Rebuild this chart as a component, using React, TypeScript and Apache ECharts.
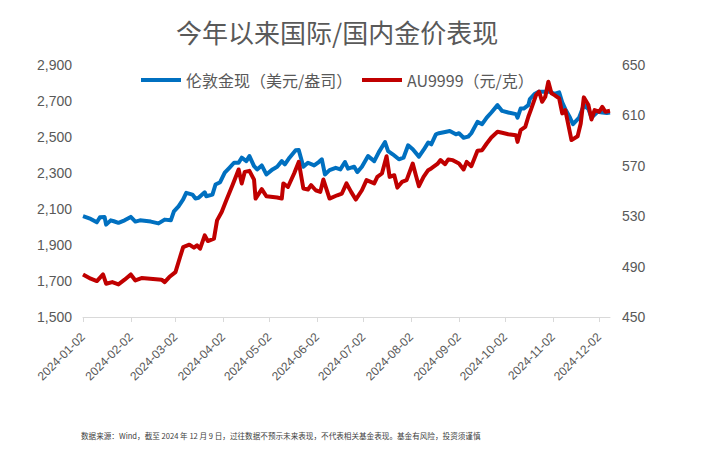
import React, { useEffect, useRef } from "react";
import * as echarts from "echarts";

const titleText = "今年以来国际/国内金价表现";
const noteText =
  "数据来源：Wind，截至 2024 年 12 月 9 日，过往数据不预示未来表现，不代表相关基金表现。基金有风险，投资须谨慎";
const seriesNames = ["伦敦金现（美元/盎司）", "AU9999（元/克）"];
const startDate = "2024-01-02";
const endDate = "2024-12-09";
const leftTicks = [1500, 1700, 1900, 2100, 2300, 2500, 2700, 2900];
const rightTicks = [450, 490, 530, 570, 610, 650];

const londonDates = [
  "2024-01-02", "2024-01-07", "2024-01-11", "2024-01-13", "2024-01-16", "2024-01-17", "2024-01-20", "2024-01-22",
  "2024-01-25", "2024-01-29", "2024-02-02", "2024-02-05", "2024-02-08", "2024-02-15", "2024-02-20", "2024-02-24",
  "2024-02-28", "2024-03-01", "2024-03-04", "2024-03-07", "2024-03-09", "2024-03-13", "2024-03-15", "2024-03-17",
  "2024-03-21", "2024-03-22", "2024-03-26", "2024-03-28", "2024-03-31", "2024-04-03", "2024-04-06", "2024-04-09",
  "2024-04-12", "2024-04-14", "2024-04-17", "2024-04-19", "2024-04-22", "2024-04-24", "2024-04-27", "2024-04-30",
  "2024-05-04", "2024-05-07", "2024-05-10", "2024-05-12", "2024-05-15", "2024-05-19", "2024-05-21", "2024-05-24",
  "2024-05-27", "2024-05-31", "2024-06-03", "2024-06-05", "2024-06-07", "2024-06-10", "2024-06-14", "2024-06-17",
  "2024-06-20", "2024-06-22", "2024-06-26", "2024-06-28", "2024-07-01", "2024-07-05", "2024-07-09", "2024-07-12",
  "2024-07-16", "2024-07-18", "2024-07-21", "2024-07-25", "2024-07-28", "2024-07-31", "2024-08-03", "2024-08-07",
  "2024-08-10", "2024-08-13", "2024-08-15", "2024-08-18", "2024-08-20", "2024-08-24", "2024-08-27", "2024-08-31",
  "2024-09-02", "2024-09-05", "2024-09-08", "2024-09-10", "2024-09-14", "2024-09-17", "2024-09-20", "2024-09-23",
  "2024-09-27", "2024-09-30", "2024-10-04", "2024-10-09", "2024-10-10", "2024-10-12", "2024-10-14", "2024-10-17",
  "2024-10-18", "2024-10-21", "2024-10-24", "2024-10-28", "2024-10-31", "2024-11-03", "2024-11-06", "2024-11-08",
  "2024-11-10", "2024-11-13", "2024-11-15", "2024-11-19", "2024-11-22", "2024-11-25", "2024-11-27", "2024-12-01",
  "2024-12-04", "2024-12-07", "2024-12-09",
];
const londonValues = [
  2060, 2045, 2026, 2054, 2056, 2013, 2037, 2032,
  2023, 2037, 2056, 2030, 2037, 2030, 2020, 2041,
  2037, 2087, 2115, 2153, 2190, 2180, 2158, 2162,
  2193, 2171, 2180, 2236, 2249, 2302, 2329, 2357,
  2357, 2385, 2366, 2394, 2338, 2320, 2342, 2292,
  2320, 2335, 2366, 2348, 2385, 2426, 2428, 2335,
  2357, 2342, 2361, 2376, 2292, 2316, 2329, 2320,
  2361, 2324, 2335, 2305, 2335, 2394, 2366, 2416,
  2472, 2422, 2404, 2376, 2385, 2454, 2432, 2391,
  2428, 2469, 2459, 2515, 2521, 2528, 2533, 2515,
  2521, 2496, 2502, 2521, 2584, 2571, 2608, 2636,
  2677, 2645, 2636, 2627, 2608, 2658, 2658, 2677,
  2711, 2739, 2752, 2752, 2752, 2739, 2748, 2692,
  2655, 2608, 2571, 2608, 2677, 2655, 2608, 2640,
  2636, 2633, 2636,
];

const auDates = [
  "2024-01-02", "2024-01-07", "2024-01-11", "2024-01-15", "2024-01-17", "2024-01-21", "2024-01-25", "2024-01-29",
  "2024-02-02", "2024-02-05", "2024-02-09", "2024-02-22", "2024-02-24", "2024-02-27", "2024-03-02", "2024-03-05",
  "2024-03-07", "2024-03-11", "2024-03-14", "2024-03-16", "2024-03-18", "2024-03-21", "2024-03-23", "2024-03-27",
  "2024-03-29", "2024-04-01", "2024-04-04", "2024-04-08", "2024-04-11", "2024-04-12", "2024-04-14", "2024-04-16",
  "2024-04-19", "2024-04-22", "2024-04-23", "2024-04-27", "2024-04-30", "2024-05-07", "2024-05-10", "2024-05-11",
  "2024-05-14", "2024-05-18", "2024-05-21", "2024-05-24", "2024-05-27", "2024-05-29", "2024-06-01", "2024-06-04",
  "2024-06-06", "2024-06-10", "2024-06-15", "2024-06-18", "2024-06-21", "2024-06-24", "2024-06-27", "2024-07-01",
  "2024-07-04", "2024-07-09", "2024-07-11", "2024-07-14", "2024-07-17", "2024-07-19", "2024-07-22", "2024-07-24",
  "2024-07-27", "2024-07-30", "2024-08-03", "2024-08-05", "2024-08-07", "2024-08-10", "2024-08-13", "2024-08-15",
  "2024-08-19", "2024-08-21", "2024-08-24", "2024-08-26", "2024-08-29", "2024-09-02", "2024-09-05", "2024-09-07",
  "2024-09-10", "2024-09-14", "2024-09-17", "2024-09-20", "2024-09-23", "2024-09-27", "2024-09-30", "2024-10-04",
  "2024-10-09", "2024-10-10", "2024-10-12", "2024-10-15", "2024-10-17", "2024-10-19", "2024-10-22", "2024-10-24",
  "2024-10-26", "2024-10-28", "2024-10-30", "2024-11-01", "2024-11-03", "2024-11-06", "2024-11-08", "2024-11-10",
  "2024-11-12", "2024-11-14", "2024-11-18", "2024-11-20", "2024-11-22", "2024-11-25", "2024-11-27", "2024-11-29",
  "2024-12-02", "2024-12-04", "2024-12-06", "2024-12-09",
];
const auValues = [
  483.8, 480.4, 478.5, 483.8, 476.4, 477.7, 475.9, 479.6,
  483.8, 479.0, 480.9, 479.6, 477.7, 481.7, 485.6, 497.6,
  505.5, 507.4, 505.0, 506.9, 504.2, 514.8, 510.3, 512.2,
  526.7, 533.4, 542.6, 554.6, 563.9, 567.1, 556.0, 565.2,
  566.0, 559.0, 544.0, 551.5, 545.8, 544.8, 544.0, 556.0,
  553.2, 563.9, 573.1, 552.0, 551.2, 554.6, 550.6, 549.3,
  559.1, 544.0, 546.6, 548.0, 556.0, 549.3, 543.2, 550.6,
  558.6, 556.0, 561.2, 563.9, 577.6, 561.2, 562.5, 552.7,
  557.2, 558.6, 571.8, 562.5, 553.8, 561.2, 566.5, 567.9,
  571.5, 574.5, 571.3, 575.0, 574.5, 571.8, 567.1, 573.1,
  569.7, 581.9, 582.4, 587.7, 592.5, 597.0, 596.2, 595.1,
  594.3, 589.0, 598.3, 600.9, 608.9, 615.6, 626.1, 628.8,
  620.8, 624.8, 636.7, 627.5, 626.1, 623.5, 611.6, 614.2,
  602.3, 590.4, 593.5, 603.6, 624.3, 618.2, 606.8, 614.2,
  612.9, 616.8, 612.9, 613.7,
];

function buildDays(start: string, end: string): string[] {
  const out: string[] = [];
  const s = new Date(start + "T00:00:00Z").getTime();
  const e = new Date(end + "T00:00:00Z").getTime();
  for (let t = s; t <= e; t += 86400000) {
    out.push(new Date(t).toISOString().slice(0, 10));
  }
  return out;
}

export default function App() {
  const ref = useRef<HTMLDivElement>(null);

  useEffect(() => {
    if (!ref.current) return;
    const chart = echarts.init(ref.current, undefined, { renderer: "svg" });
    const days = buildDays(startDate, endDate);
    const idx: Record<string, number> = {};
    days.forEach((d, i) => (idx[d] = i));
    const isTick = (_i: number, v: string) => v.slice(8) === "02";
    const grey = "#595959";
    const cjk = "'Noto Sans CJK SC', sans-serif";
    const latin = "'Liberation Sans', Arial, sans-serif";
    const legendBase = {
      top: 67,
      icon: "rect",
      itemWidth: 40,
      itemHeight: 4,
      textStyle: { fontSize: 16, color: grey, fontFamily: cjk },
    };

    chart.setOption({
      animation: false,
      backgroundColor: "#ffffff",
      title: {
        text: titleText,
        left: 171,
        top: 13,
        textStyle: { fontSize: 26, fontWeight: "normal", color: grey, fontFamily: cjk },
      },
      legend: [
        { ...legendBase, left: 136, data: [seriesNames[0]] },
        { ...legendBase, left: 357, data: [seriesNames[1]] },
      ],
      graphic: [
        {
          type: "text",
          left: 81,
          top: 432,
          style: { text: noteText, fontSize: 7.6, fill: "#404040", fontFamily: cjk },
        },
      ],
      grid: { left: 83, right: 104, top: 65, bottom: 139, containLabel: false },
      xAxis: {
        type: "category",
        data: days,
        boundaryGap: false,
        axisLine: { show: true, lineStyle: { color: "#d9d9d9", width: 1 } },
        axisTick: { show: true, interval: isTick, length: 5, lineStyle: { color: "#d9d9d9" } },
        axisLabel: {
          interval: isTick,
          rotate: 45,
          margin: 18,
          fontSize: 12,
          color: grey,
          fontFamily: latin,
        },
        splitLine: { show: false },
      },
      yAxis: [
        {
          type: "value",
          min: 1500,
          max: 2900,
          axisLine: { show: false },
          axisTick: { show: false },
          splitLine: { show: false },
          axisLabel: {
            customValues: leftTicks,
            fontSize: 14,
            color: grey,
            fontFamily: latin,
            margin: 11,
            formatter: (v: number) => v.toLocaleString("en-US"),
          },
        },
        {
          type: "value",
          min: 450,
          max: 650,
          position: "right",
          axisLine: { show: false },
          axisTick: { show: false },
          splitLine: { show: false },
          axisLabel: {
            customValues: rightTicks,
            fontSize: 14,
            color: grey,
            fontFamily: latin,
            margin: 12,
          },
        },
      ],
      series: [
        {
          name: seriesNames[0],
          type: "line",
          yAxisIndex: 0,
          showSymbol: false,
          symbol: "none",
          color: "#0070C0",
          lineStyle: { width: 4, color: "#0070C0", join: "round" },
          data: londonDates.map((d, i) => [idx[d], londonValues[i]]),
          z: 2,
        },
        {
          name: seriesNames[1],
          type: "line",
          yAxisIndex: 1,
          showSymbol: false,
          symbol: "none",
          color: "#C00000",
          lineStyle: { width: 4, color: "#C00000", join: "round" },
          data: auDates.map((d, i) => [idx[d], auValues[i]]),
          z: 3,
        },
      ],
    });
    return () => chart.dispose();
  }, []);

  return (
    <div
      ref={ref}
      style={{ position: "fixed", left: 0, top: 0, width: 714, height: 456, background: "#fff" }}
    />
  );
}
